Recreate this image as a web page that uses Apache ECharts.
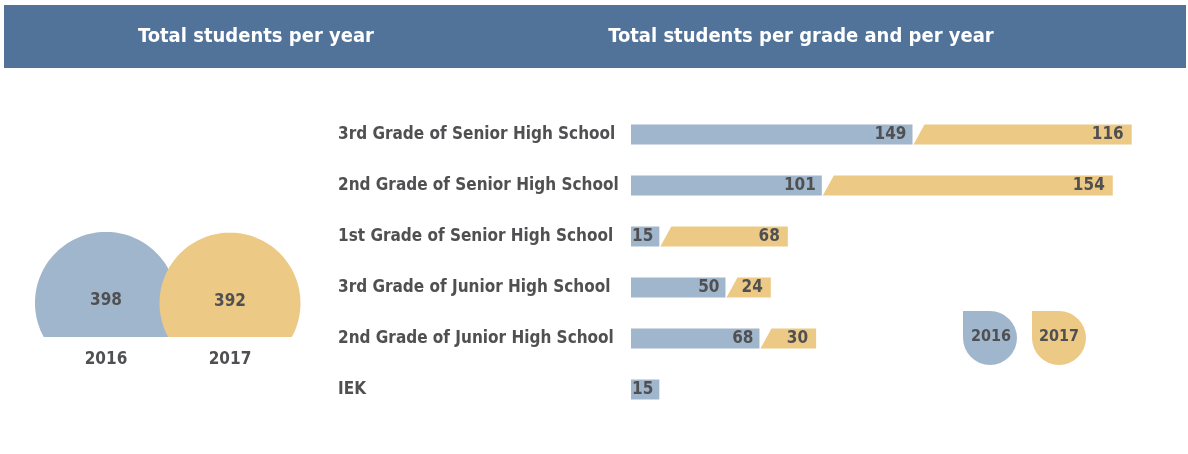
<!DOCTYPE html>
<html>
<head>
<meta charset="utf-8">
<script src="https://cdn.jsdelivr.net/npm/echarts@6/dist/echarts.min.js"></script>
<style>
  html, body { margin: 0; padding: 0; background: #fff; }
  #chart { width: 1188px; height: 454px; }
</style>
</head>
<body>
<div id="chart"></div>
<script>
// data
const years = ['2016', '2017']
const yearTotals = [398, 392]
const grades = [
  '3rd Grade of Senior High School',
  '2nd Grade of Senior High School',
  '1st Grade of Senior High School',
  '3rd Grade of Junior High School',
  '2nd Grade of Junior High School',
  'IEK'
]
const students2016 = [149, 101, 15, 50, 68, 15]
const students2017 = [116, 154, 68, 24, 30, null]

const BLUE = '#a0b6cd'
const YELLOW = '#ecc985'
const HEADER = '#527399'
const TEXT = '#505052'
const FONT = '"DejaVu Sans Condensed", "Liberation Sans Narrow", "DejaVu Sans", sans-serif'

const myChart = echarts.init(document.getElementById('chart'))

// circles cut flat by the axis line
const renderBubble = (params, api) => {
  const i = api.value(0)
  const v = api.value(1)
  const base = api.coord([i, 0])
  const r = 3.56 * Math.sqrt(v)
  const cut = base[1]
  const cx = base[0]
  const cy = cut - 0.48 * r
  const phi = Math.asin((cut - cy) / r)
  const pts = []
  const n = 120
  for (let k = 0; k <= n; k++) {
    const t = -phi + (Math.PI + 2 * phi) * k / n
    pts.push([cx + r * Math.cos(t), cy - r * Math.sin(t)])
  }
  return {
    type: 'group',
    children: [
      { type: 'polygon', shape: { points: pts }, style: { fill: i === 0 ? BLUE : YELLOW } },
      {
        type: 'text',
        style: {
          text: String(v), x: cx, y: cy - 2, align: 'center', verticalAlign: 'middle',
          fill: TEXT, fontFamily: FONT, fontWeight: 'bold', fontSize: 17
        }
      }
    ]
  }
}

// 2017 segment with slanted left edge
const renderSlant = (params, api) => {
  const cat = api.value(0)
  const base = api.value(1)
  const val = api.value(2)
  if (val == null || isNaN(val)) return
  const start = api.coord([base, cat])
  const end = api.coord([base + val, cat])
  const h = 20
  const top = start[1] - h / 2
  const bottom = start[1] + h / 2
  return {
    type: 'group',
    children: [
      {
        type: 'polygon',
        shape: { points: [[start[0] + 1, bottom], [start[0] + 12, top], [end[0], top], [end[0], bottom]] },
        style: { fill: YELLOW }
      },
      {
        type: 'text',
        style: {
          text: String(val), x: end[0] - 8, y: start[1], align: 'right', verticalAlign: 'middle',
          fill: TEXT, fontFamily: FONT, fontWeight: 'bold', fontSize: 17
        }
      }
    ]
  }
}

const option = {
  animation: false,
  textStyle: { fontFamily: FONT },
  graphic: [
    { type: 'rect', shape: { x: 4, y: 5, width: 1182, height: 63 }, style: { fill: HEADER }, z: 0 },
    {
      type: 'text', x: 256, y: 37,
      style: { text: 'Total students per year', align: 'center', verticalAlign: 'middle', fill: '#fff', fontFamily: FONT, fontWeight: 'bold', fontSize: 20 }
    },
    {
      type: 'text', x: 801, y: 37,
      style: { text: 'Total students per grade and per year', align: 'center', verticalAlign: 'middle', fill: '#fff', fontFamily: FONT, fontWeight: 'bold', fontSize: 20 }
    },
    // legend
    { type: 'rect', shape: { x: 963, y: 311, width: 54, height: 54, r: [0, 27, 27, 27] }, style: { fill: BLUE } },
    {
      type: 'text', x: 991, y: 337,
      style: { text: years[0], align: 'center', verticalAlign: 'middle', fill: TEXT, fontFamily: FONT, fontWeight: 'bold', fontSize: 16 }
    },
    { type: 'rect', shape: { x: 1032, y: 311, width: 54, height: 54, r: [0, 27, 27, 27] }, style: { fill: YELLOW } },
    {
      type: 'text', x: 1059, y: 337,
      style: { text: years[1], align: 'center', verticalAlign: 'middle', fill: TEXT, fontFamily: FONT, fontWeight: 'bold', fontSize: 16 }
    }
  ],
  grid: [
    { left: 631, right: 28, top: 109, bottom: 39 },
    { left: 44, right: 896, top: 200, bottom: 117 }
  ],
  xAxis: [
    { type: 'value', min: 0, max: 280, show: false, gridIndex: 0 },
    {
      type: 'category', data: years, gridIndex: 1,
      axisLine: { show: false }, axisTick: { show: false },
      axisLabel: { color: TEXT, fontWeight: 'bold', fontSize: 17, fontFamily: FONT, margin: 14 }
    }
  ],
  yAxis: [
    {
      type: 'category', data: grades, inverse: true, gridIndex: 0,
      axisLine: { show: false }, axisTick: { show: false },
      axisLabel: { color: TEXT, fontWeight: 'bold', fontSize: 17, fontFamily: FONT, align: 'left', margin: 293 }
    },
    { type: 'value', min: 0, max: 400, show: false, gridIndex: 1 }
  ],
  series: [
    {
      name: years[0], type: 'bar', xAxisIndex: 0, yAxisIndex: 0,
      data: students2016, barWidth: 20,
      itemStyle: { color: BLUE },
      label: {
        show: true, position: 'insideRight', distance: 6,
        color: TEXT, fontWeight: 'bold', fontSize: 17, fontFamily: FONT
      }
    },
    {
      name: years[1], type: 'custom', xAxisIndex: 0, yAxisIndex: 0,
      renderItem: renderSlant,
      encode: { x: [1, 2], y: 0 },
      data: grades.map((g, i) => [i, students2016[i] || 0, students2017[i] == null ? '-' : students2017[i]])
    },
    {
      name: 'total', type: 'custom', xAxisIndex: 1, yAxisIndex: 1,
      renderItem: renderBubble,
      encode: { x: 0, y: 1 },
      data: yearTotals.map((v, i) => [i, v])
    }
  ]
}
myChart.setOption(option)
</script>
</body>
</html>
